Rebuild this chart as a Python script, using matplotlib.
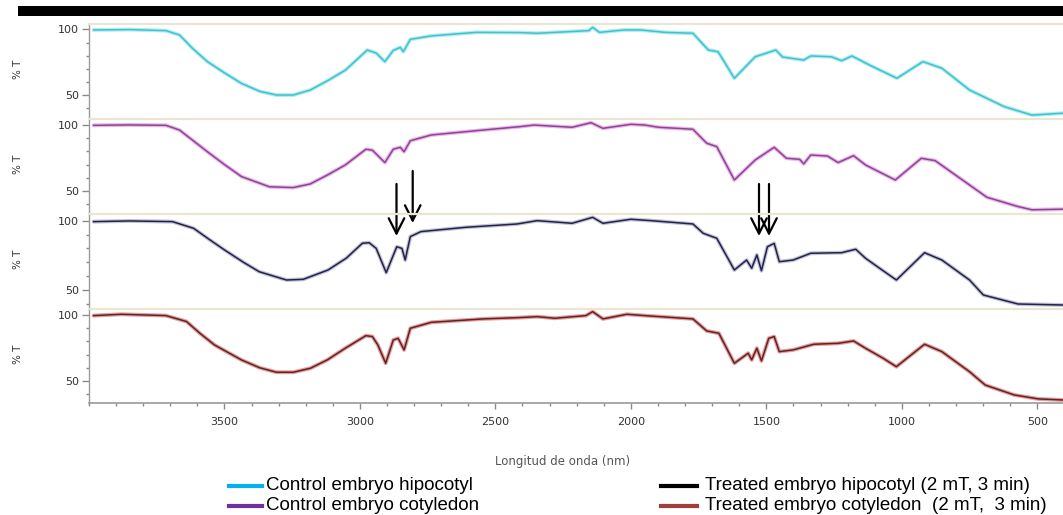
import matplotlib
matplotlib.use("Agg")
import matplotlib.pyplot as plt
from matplotlib.ticker import MultipleLocator, FixedLocator
from matplotlib.lines import Line2D
from matplotlib.patches import Rectangle

# ---------------- data ----------------
wn1 = [3983, 3850, 3716, 3666, 3620, 3563, 3500, 3437, 3370, 3308,
       3246, 3183, 3120, 3054, 2973, 2940, 2908, 2877, 2851, 2840,
       2814, 2737, 2571, 2409, 2346, 2250, 2155, 2141, 2116, 2026,
       1963, 1875, 1771, 1714, 1678, 1618, 1541, 1465, 1440, 1362,
       1336, 1260, 1222, 1184, 1120, 1018, 922, 852, 750, 622,
       520, 407]
t1 = [99.5, 99.8, 99, 95.7, 86, 75.5, 67, 59, 53, 50.2,
      50.2, 54, 61, 69, 84.3, 82, 75.5, 84, 86.3, 83,
      92.4, 95, 97.7, 97.5, 97, 98, 99, 101.5, 97.7, 99.5,
      99.5, 97.7, 97, 84.3, 83, 62.9, 79.2, 84.3, 79, 76.7,
      79.8, 79.2, 76.2, 79.8, 73, 62.9, 75.5, 70.5, 54, 41.4,
      35, 36.4]

wn2 = [3983, 3850, 3716, 3666, 3620, 3563, 3500, 3437, 3334, 3246,
       3183, 3120, 3054, 2978, 2954, 2908, 2877, 2851, 2837, 2814,
       2737, 2545, 2409, 2357, 2217, 2147, 2103, 2000, 1948, 1898,
       1771, 1720, 1683, 1618, 1541, 1471, 1426, 1377, 1362, 1336,
       1274, 1235, 1178, 1134, 1024, 928, 877, 776, 686, 571,
       520, 407]
t2 = [100, 100.3, 100, 96.4, 89, 79.8, 70, 60.8, 53, 52.4,
      55.2, 62, 69.7, 81.7, 81, 71.5, 81.7, 83.2, 79.8, 88.2,
      92.6, 96.4, 99, 100.2, 98.5, 102, 97.7, 100.8, 100.2, 98.5,
      97, 86.3, 83.7, 58.2, 73.5, 83.2, 74.8, 74, 70.5, 77.3,
      76.5, 71.5, 76.8, 69.7, 58.2, 74.8, 73, 58.2, 45, 37.9,
      35.4, 35.9]

wn3 = [3983, 3850, 3692, 3614, 3560, 3500, 3430, 3372, 3271, 3209,
       3118, 3050, 2991, 2966, 2940, 2903, 2864, 2845, 2833, 2814,
       2775, 2610, 2420, 2346, 2217, 2141, 2103, 2000, 1924, 1771,
       1733, 1683, 1618, 1573, 1554, 1535, 1518, 1496, 1471, 1452,
       1401, 1336, 1222, 1170, 1134, 1082, 1020, 916, 852, 750,
       699, 571, 407]
t3 = [99.3, 99.8, 99.3, 94.5, 87, 78.9, 70, 63.2, 57.2, 57.7,
      64.4, 73, 83.7, 84.1, 80, 62.5, 81.2, 80, 71.6, 88.5,
      92.1, 95.2, 97.6, 100, 98.1, 102.4, 98.1, 101, 100, 97.6,
      90.9, 87.3, 64.4, 71.6, 65.7, 75.3, 63.9, 81.2, 83.6, 70.4,
      71.6, 76.5, 76.9, 79.4, 72.9, 65.7, 57.2, 76.9, 71.6, 57.2,
      46.4, 39.9, 39.2]

wn4 = [3983, 3881, 3716, 3640, 3590, 3537, 3437, 3370, 3308, 3246,
       3183, 3120, 3054, 2978, 2954, 2934, 2905, 2877, 2859, 2837,
       2814, 2737, 2545, 2409, 2346, 2281, 2166, 2141, 2103, 2015,
       1949, 1771, 1720, 1675, 1618, 1567, 1554, 1535, 1518, 1491,
       1471, 1452, 1401, 1325, 1235, 1178, 1134, 1069, 1020, 916,
       852, 750, 692, 585, 496, 407]
t4 = [99.5, 100.5, 99.5, 95, 86, 77.3, 65.9, 60, 56.6, 56.6,
      59.6, 66, 74.8, 84.3, 83.6, 77.3, 63.4, 81, 82.3, 73.5,
      89.9, 94.4, 97, 98, 98.7, 97.5, 99.5, 102.5, 97, 100.5,
      99.5, 97, 87.9, 86.1, 63.4, 71, 66, 74.8, 65.2, 82.3,
      83.6, 72.2, 73.5, 77.8, 78.5, 80.3, 74.8, 67.2, 60.8, 77.8,
      72.2, 57, 46.9, 39.4, 36.4, 35.6]

series_labels = ["Control embryo hipocotyl", "Control embryo cotyledon",
                 "Treated embryo hipocotyl (2 mT, 3 min)",
                 "Treated embryo cotyledon  (2 mT,  3 min)"]
y_ticks = [50, 100]
x_ticks = [3500, 3000, 2500, 2000, 1500, 1000, 500]
x_label = "Longitud de onda (nm)"
y_label = "% T"

# ---------------- layout / style ----------------
W, H = 1063, 515
fig = plt.figure(figsize=(W / 100, H / 100), dpi=100)

core = ['#3cc3cf', '#8a4690', '#22224a', '#5a2626']
halo = ['#b4ebf1', '#ecb6ec', '#c2c2d6', '#eb9a9a']
legend_col = ['#00b0f0', '#7030a0', '#000000', '#a0403c']
ylims = [(31.8, 103.8), (32.2, 104.6), (36.3, 104.8), (33.3, 104.5)]
tops = [24.3, 119.3, 214.0, 309.0]
bots = [119.3, 214.0, 309.0, 403.0]
left_px = 89

data = [(wn1, t1), (wn2, t2), (wn3, t3), (wn4, t4)]
axes = []
for i, (wn, tt) in enumerate(data):
    ax = fig.add_axes([left_px / W, 1 - bots[i] / H, 1 - left_px / W,
                       (bots[i] - tops[i]) / H])
    ax.plot(wn, tt, color=halo[i], lw=2.8, solid_capstyle='round', zorder=2)
    ax.plot(wn, tt, color=core[i], lw=1.1, zorder=3)
    ax.set_xlim(4000, 405)
    ax.set_ylim(*ylims[i])
    ax.yaxis.set_major_locator(FixedLocator(y_ticks))
    ax.yaxis.set_minor_locator(MultipleLocator(10))
    ax.tick_params(axis='y', which='major', length=5, width=1, color='#8a8a8a',
                   labelsize=8, labelcolor='#333333', pad=2)
    ax.tick_params(axis='y', which='minor', length=2, width=1, color='#8a8a8a')
    for s in ['right']:
        ax.spines[s].set_visible(False)
    ax.spines['top'].set_color('#ebe5d3')
    ax.spines['top'].set_linewidth(1.6)
    ax.spines['left'].set_color('#9a9a9a')
    ax.spines['left'].set_linewidth(1.0)
    if i < 3:
        ax.spines['bottom'].set_visible(False)
        ax.tick_params(axis='x', which='both', bottom=False, labelbottom=False)
    else:
        ax.spines['bottom'].set_color('#9a9a9a')
        ax.spines['bottom'].set_linewidth(1.2)
        ax.xaxis.set_major_locator(FixedLocator(x_ticks))
        ax.xaxis.set_minor_locator(MultipleLocator(100))
        ax.tick_params(axis='x', which='major', length=4, width=1, color='#8a8a8a',
                       labelsize=8, labelcolor='#333333', pad=6)
        ax.tick_params(axis='x', which='minor', length=2, width=1, color='#8a8a8a')
    ax.set_facecolor('none')
    fig.text(18 / W, 1 - ((tops[i] + bots[i]) / 2 - 2) / H, y_label, rotation=90,
             ha='center', va='center', fontsize=7.5, color='#333333')
    axes.append(ax)

fig.text(563 / W, 1 - 462 / H, x_label, ha='center', va='center',
         fontsize=8.5, color='#555555')

# black bar at the top
fig.add_artist(Rectangle((18 / W, 1 - 15.5 / H), 1 - 18 / W, 10 / H,
                         transform=fig.transFigure, color='black', lw=0))

# arrows (figure pixel coordinates, origin bottom-left)
arrow_px = [(396.5, 184, 236), (412.7, 171, 223), (759, 184, 236), (769, 184, 236)]
for (x, y0, y1) in arrow_px:
    axes[0].annotate('', xy=(x, H - y1), xycoords='figure pixels',
                     xytext=(x, H - y0), textcoords='figure pixels',
                     arrowprops=dict(arrowstyle='->,head_length=0.55,head_width=0.28',
                                     lw=1.6, color='black', mutation_scale=20,
                                     shrinkA=0, shrinkB=0),
                     annotation_clip=False)

# legend
leg_items = [((229, 262), 486, 266), ((229, 262), 506, 266),
             ((661, 697), 486, 705), ((661, 697), 506, 705)]
for (xs, y, tx), lab, col in zip(leg_items, series_labels, legend_col):
    fig.add_artist(Line2D([xs[0] / W, xs[1] / W], [1 - y / H, 1 - y / H],
                          transform=fig.transFigure, color=col, lw=3.0))
    fig.text(tx / W, 1 - y / H, lab, ha='left', va='center', fontsize=13.5,
             family='Liberation Sans', color='black')

fig.savefig('out.png', dpi=100, facecolor='white')
